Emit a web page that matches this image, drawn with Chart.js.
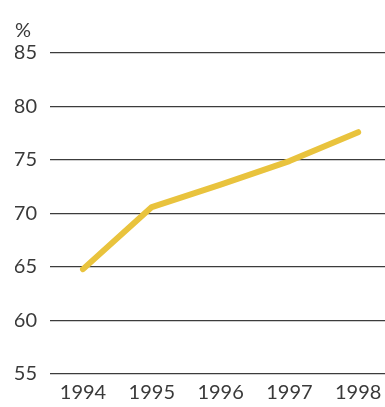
<!DOCTYPE html>
<html lang="en">
<head>
  <meta charset="UTF-8">
  <title>Share, 1994-1998</title>
  <style>
    html, body { margin: 0; padding: 0; background: #fff; }
    #wrap { width: 385px; height: 407px; }
  </style>
</head>
<body>
<div id="wrap"><canvas id="shareChart"></canvas></div>

<script src="https://cdn.jsdelivr.net/npm/chart.js"></script>
<script>
  // yearly figures, in percent
  const years = [1994, 1995, 1996, 1997, 1998];
  const shares = [64.8, 70.6, 72.7, 74.9, 77.6];
  const yTicks = [55, 60, 65, 70, 75, 80, 85];

  const textColor = '#3a3a3a';
  const font = { family: 'Lato, "Open Sans", sans-serif', size: 20, weight: 400 };

  const points = years.map((y, i) => ({ x: y, y: shares[i] }));

  new Chart(document.getElementById('shareChart'), {
    type: 'line',
    data: {
      datasets: [{
        data: points,
        borderColor: '#e9c33d',
        borderWidth: 6,
        borderCapStyle: 'round',
        borderJoinStyle: 'round',
        pointRadius: 0,
        tension: 0
      }]
    },
    options: {
      responsive: true,
      maintainAspectRatio: false,
      animation: false,
      layout: { padding: { left: 15, top: 19, right: 0, bottom: 3 } },
      plugins: {
        legend: { display: false },
        tooltip: { enabled: false },
        title: {
          display: true,
          text: '%',
          align: 'start',
          color: textColor,
          font: font,
          padding: { top: 0, bottom: 10 }
        }
      },
      scales: {
        x: {
          type: 'linear',
          min: 1993.52,
          max: 1998.39,
          grid: { display: false },
          border: { display: false },
          afterBuildTicks: scale => { scale.ticks = years.map(v => ({ value: v })); },
          ticks: {
            color: textColor,
            font: Object.assign({}, font, { lineHeight: 1.0 }),
            padding: 1,
            maxRotation: 0,
            callback: v => String(v)
          }
        },
        y: {
          min: 55,
          max: 85,
          afterBuildTicks: scale => { scale.ticks = yTicks.map(v => ({ value: v })); },
          afterFit: scale => { scale.width = 35; },
          grid: { color: '#3c3c3c', lineWidth: 1.2, drawTicks: false },
          border: { display: false },
          ticks: {
            color: textColor,
            font: font,
            padding: 13
          }
        }
      }
    }
  });
</script>
</body>
</html>
